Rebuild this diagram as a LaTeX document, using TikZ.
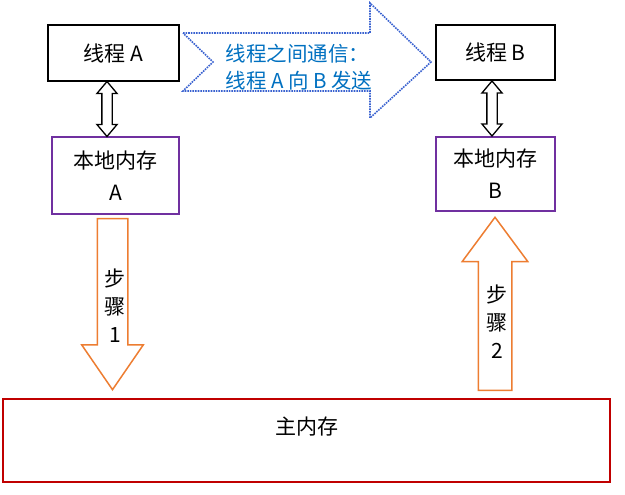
\documentclass[tikz,border=0pt]{standalone}
\usepackage{fontspec}
\setmainfont{Noto Sans CJK SC}
\usepackage{tikz}
\usetikzlibrary{shapes.arrows, positioning, calc}
\definecolor{lilac}{HTML}{7030A0}
\definecolor{memred}{HTML}{C00000}
\definecolor{steporange}{HTML}{ED7D31}
\definecolor{msgblue}{HTML}{0070C0}
\definecolor{dotblue}{HTML}{3A62D0}

\begin{document}
\begin{tikzpicture}[
    x=1pt, y=-1pt,
    node distance=54pt,
    thread/.style={rectangle, draw=black, line width=2pt, minimum width=131pt, minimum height=56pt, font=\fontsize{21}{24}\selectfont},
    local/.style={rectangle, draw=lilac, line width=2pt, minimum width=127pt, minimum height=77pt, align=center, execute at begin node={\rule{0pt}{33pt}}, font=\fontsize{21}{32}\selectfont},
    mainmem/.style={rectangle, draw=memred, line width=2.5pt, minimum width=607pt, minimum height=83pt},
    dblarrow/.style={double arrow, shape border rotate=90, draw=black, fill=white, line width=1.3pt, inner sep=4.5pt, minimum height=55pt, double arrow head extend=5pt, double arrow tip angle=80},
    steparrow/.style={single arrow, anchor=tip, draw=steporange, fill=white, line width=1.5pt, inner sep=14.5pt, single arrow head extend=15.5pt},
    steptext/.style={align=center, font=\fontsize{21}{28}\selectfont},
    msg/.style={align=left, anchor=west, text=msgblue, font=\fontsize{20.5}{27}\selectfont}
]
\useasboundingbox (0,0) rectangle (625,495);

% Threads
\node[thread] (ta) at (113.5,53) {线程 A};
\node[thread, minimum width=119pt, minimum height=55pt] (tb) at (495.5,52.5) {线程 B};

% Local memory
\node[local, below=54pt of ta, xshift=2pt] (la) {本地内存\\A};
\node[local, below=55pt of tb, minimum width=119pt, minimum height=74pt] (lb) {本地内存\\B};

% Main memory
\node[mainmem] (mm) at (306.5,440.5) {};
\node[font=\fontsize{21}{24}\selectfont] (mmtext) at (307,427) {主内存};

% Thread <-> local memory
\node[dblarrow] (da) at ($(ta.south)!0.5!(la.north)$) [xshift=-7.5pt] {};
\node[dblarrow] (db) at ($(tb.south)!0.5!(lb.north)$) [xshift=-3.5pt] {};

% Message from A to B
\draw[dotblue, line width=1.6pt, densely dotted]
    (183,33) -- (370,33) -- (370,3) -- (431,62) -- (370,118) -- (370,91) -- (183,91) -- (213,62) -- cycle;
\node[msg] (msgtext) at (222,67.5) {线程之间通信：\\线程 A 向 B 发送};

% Steps
\node[steparrow, shape border rotate=270, minimum height=171pt, single arrow tip angle=69] (s1) at (112.5,391) {};
\node[steptext] (s1text) at (115,306) {步\\骤\\1};
\node[steparrow, shape border rotate=90, minimum height=173pt, inner sep=16pt, single arrow head extend=16pt, single arrow tip angle=73] (s2) at (495,216) {};
\node[steptext] (s2text) at (497,322) {步\\骤\\2};
\end{tikzpicture}
\end{document}
